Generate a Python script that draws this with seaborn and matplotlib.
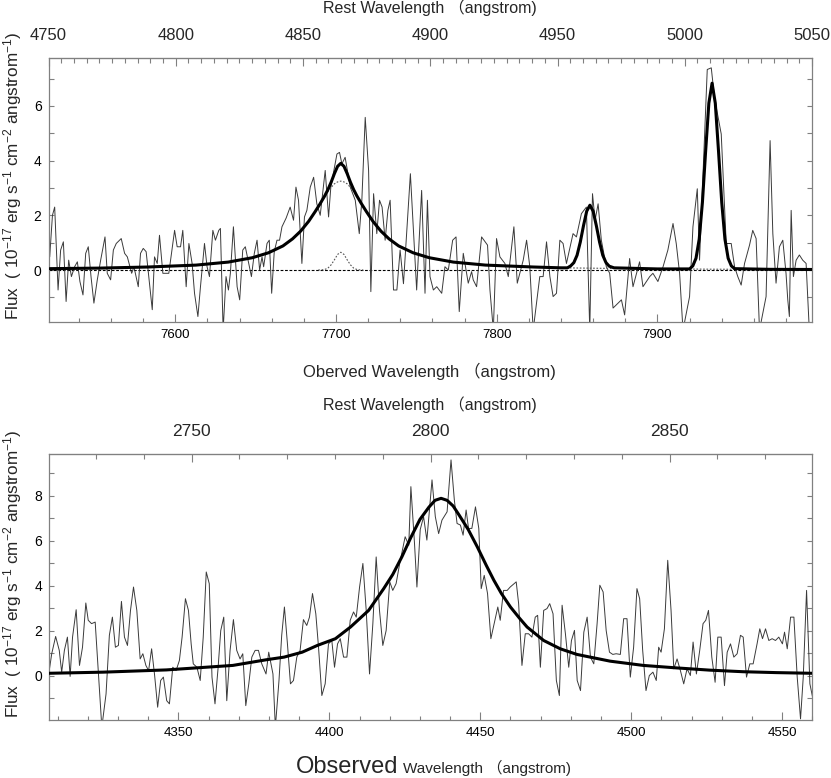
import numpy as np
import pandas as pd
import matplotlib
matplotlib.use("Agg")
import matplotlib.pyplot as plt
from matplotlib.ticker import MultipleLocator, FixedLocator
import seaborn as sns

# ---------------- data ----------------
redshift = 0.5834
rest_range_top = [4750, 5050]
rest_ticks_top = [4750, 4800, 4850, 4900, 4950, 5000, 5050]
rest_ticks_bottom = [2750, 2800, 2850]

# top panel: observed spectrum around H-beta / [OIII]
hb_wave = [7521.9, 7523.6, 7525.0, 7527.1, 7528.7, 7530.4, 7532.1, 7533.7, 7535.4, 7537.4,
           7539.1, 7540.7, 7542.6, 7544.3, 7545.9, 7547.6, 7549.4, 7551.5, 7553.6, 7556.3,
           7557.7, 7559.8, 7561.5, 7563.3, 7566.4, 7568.5, 7570.2, 7572.9, 7574.3, 7577.0,
           7578.4, 7580.1, 7581.9, 7585.7, 7587.1, 7588.8, 7590.2, 7592.3, 7596.0, 7599.6,
           7601.2, 7603.3, 7604.7, 7606.8, 7608.5, 7610.5, 7612.0, 7614.1, 7615.7, 7618.2,
           7619.8, 7621.3, 7623.4, 7625.0, 7627.1, 7628.1, 7629.8, 7631.6, 7633.1, 7634.3,
           7636.2, 7638.5, 7640.1, 7642.0, 7643.6, 7645.7, 7647.4, 7649.2, 7650.9, 7652.5,
           7654.0, 7655.0, 7657.1, 7658.5, 7660.0, 7661.6, 7663.3, 7664.9, 7666.4, 7669.0,
           7671.5, 7673.6, 7675.1, 7676.7, 7678.8, 7680.4, 7681.9, 7684.0, 7686.1, 7688.1,
           7690.2, 7693.3, 7695.4, 7696.8, 7700.6, 7702.2, 7703.7, 7705.7, 7708.9, 7712.0,
           7714.5, 7716.1, 7718.2, 7720.3, 7721.7, 7723.4, 7725.4, 7727.1, 7728.7, 7730.6,
           7732.3, 7733.7, 7735.8, 7737.9, 7739.9, 7742.0, 7746.3, 7750.2, 7753.3, 7755.4,
           7756.9, 7758.5, 7760.6, 7762.7, 7765.8, 7767.8, 7769.9, 7772.6, 7774.7, 7776.7,
           7779.2, 7781.3, 7782.3, 7784.4, 7785.4, 7787.5, 7790.6, 7794.3, 7795.8, 7797.9,
           7799.9, 7802.0, 7805.1, 7807.2, 7810.7, 7812.8, 7816.5, 7818.6, 7820.6, 7822.7,
           7826.8, 7828.9, 7831.0, 7833.1, 7835.1, 7837.2, 7839.3, 7841.3, 7843.4, 7847.5,
           7849.6, 7852.7, 7855.8, 7857.9, 7859.6, 7861.2, 7863.1, 7865.1, 7868.2, 7870.3,
           7872.4, 7875.5, 7877.6, 7879.6, 7882.7, 7884.8, 7888.9, 7891.0, 7895.2, 7897.2,
           7900.3, 7903.5, 7906.5, 7909.7, 7911.7, 7913.8, 7915.9, 7920.0, 7922.1, 7924.8,
           7926.2, 7931.0, 7933.5, 7935.5, 7939.7, 7942.8, 7945.9, 7948.0, 7950.0, 7952.1,
           7954.2, 7957.3, 7959.3, 7961.4, 7963.5, 7967.6, 7970.1, 7971.8, 7973.8, 7975.9,
           7978.0, 7980.0, 7981.1, 7982.1, 7983.2, 7984.6, 7986.3, 7988.3, 7990.4, 7992.5,
           7994.5]
hb_flux = [0.48, 2.0, 2.3, -0.73, 0.73, 1.03, -1.15, 0.36, -0.24, 0.12,
           0.3, -0.42, -0.91, 0.61, 0.85, -0.24, -1.21, -0.36, 0.36, 1.21,
           -0.12, -0.36, 0.73, 0.97, 1.15, 0.61, 0.48, -0.12, 0.12, -0.61,
           0.61, 0.79, 0.67, -1.45, 0.48, 0.24, 1.27, -0.12, -0.12, 1.45,
           0.85, 0.85, 1.45, -0.61, 0.97, 0.24, -0.85, -1.7, -0.61, 0.97,
           0.12, -0.24, 1.45, 1.09, 1.45, 1.52, -2.2, -0.24, -0.73, -0.12,
           1.58, -0.61, -1.09, 0.73, 0.85, 0.24, -0.24, 0.61, 1.09, 0.0,
           0.48, 0.12, 0.97, 1.09, -0.85, 0.67, 1.09, 1.09, 1.58, 1.9,
           2.3, 1.82, 3.03, 2.55, 0.24, 1.94, 2.18, 3.03, 3.39, 2.42,
           2.0, 3.64, 1.94, 3.03, 4.24, 4.3, 3.88, 4.12, 3.03, 2.55,
           1.33, 2.55, 5.58, 3.64, -0.79, 2.79, 1.33, 2.55, 2.3, 1.09,
           2.18, 2.55, -0.73, -0.73, 0.73, -0.5, 3.52, -0.73, 2.91, -0.85,
           2.55, -0.24, -0.73, -0.61, -0.85, 0.12, 0.0, 1.09, 1.21, -1.52,
           0.61, -0.12, -0.48, -0.06, -0.36, -0.61, 1.21, 0.91, -0.73, -2.2,
           1.15, 0.48, 0.24, -0.24, 1.58, -0.48, 0.36, 1.09, 0.12, -2.2,
           -0.24, -0.24, 1.03, -0.24, -0.97, -0.85, 1.09, 0.97, 0.24, 1.33,
           1.21, 2.06, 2.3, -2.2, 2.79, 1.82, 2.42, 1.09, 0.12, -0.12,
           -1.39, -1.21, -1.09, -1.64, 0.42, -0.61, 0.3, -0.61, -0.24, -0.12,
           -0.42, 0.12, 0.73, 1.7, 0.97, -0.12, -2.2, -0.97, 1.58, 2.97,
           0.36, 7.33, 7.39, 6.3, 4.97, 0.97, 0.97, 0.12, -0.24, -0.55,
           0.24, 0.91, 1.45, 1.15, -2.2, -0.97, 4.73, 1.33, -0.48, 0.85,
           1.09, -0.12, -1.09, -1.7, 2.18, -0.24, 0.36, 0.55, 0.36, 0.24,
           -2.2]

# top panel: total fitted model
hb_model_wave = [7522, 7553, 7583, 7613, 7633, 7648, 7658, 7667, 7673, 7678,
                 7683, 7687, 7690, 7693, 7695, 7697, 7699, 7701, 7703, 7705,
                 7707, 7709, 7711, 7713, 7716, 7719, 7723, 7728, 7733, 7739,
                 7748, 7758, 7773, 7793, 7823, 7840, 7844, 7846, 7848, 7850,
                 7852, 7854, 7856, 7858, 7860, 7862, 7864, 7866, 7868, 7870,
                 7873, 7900, 7920, 7922, 7924, 7926, 7928, 7930, 7932, 7934,
                 7936, 7938, 7940, 7942, 7944, 7946, 7948, 7970, 7996]
hb_model_flux = [0.05, 0.07, 0.11, 0.18, 0.29, 0.45, 0.63, 0.88, 1.14, 1.42,
                 1.78, 2.13, 2.41, 2.71, 2.94, 3.21, 3.52, 3.79, 3.90, 3.79,
                 3.52, 3.21, 2.94, 2.71, 2.41, 2.13, 1.78, 1.42, 1.14, 0.88,
                 0.63, 0.45, 0.29, 0.18, 0.11, 0.08, 0.08, 0.15, 0.27, 0.54,
                 1.02, 1.62, 2.15, 2.37, 2.15, 1.62, 1.02, 0.54, 0.27, 0.14,
                 0.08, 0.04, 0.04, 0.15, 0.43, 1.13, 2.48, 4.35, 6.10, 6.83,
                 6.10, 4.35, 2.48, 1.13, 0.43, 0.15, 0.05, 0.025, 0.02]

# top panel: broad H-beta component
hb_broad_wave = [7522, 7553, 7583, 7613, 7633, 7648, 7658, 7667, 7673, 7678,
                 7683, 7687, 7690, 7693, 7695, 7697, 7699, 7701, 7703, 7705,
                 7707, 7709, 7711, 7713, 7716, 7719, 7723, 7728, 7733, 7739,
                 7748, 7758, 7773, 7793, 7823, 7840, 7870, 7900, 7934, 7996]
hb_broad_flux = [0.05, 0.07, 0.11, 0.18, 0.29, 0.45, 0.63, 0.88, 1.14, 1.42,
                 1.78, 2.13, 2.41, 2.69, 2.87, 3.02, 3.15, 3.22, 3.25, 3.22,
                 3.15, 3.02, 2.87, 2.69, 2.41, 2.13, 1.78, 1.42, 1.14, 0.88,
                 0.63, 0.45, 0.29, 0.18, 0.11, 0.08, 0.06, 0.045, 0.03, 0.02]

# top panel: narrow H-beta component
hb_narrow_wave = [7689, 7691, 7693, 7695, 7697, 7699, 7701, 7703, 7705, 7707,
                  7709, 7711, 7713, 7715, 7717]
hb_narrow_flux = [0.0, 0.004, 0.02, 0.07, 0.19, 0.37, 0.57, 0.65, 0.57, 0.37,
                  0.19, 0.07, 0.02, 0.004, 0.0]

# bottom panel: observed spectrum around MgII
mg_wave = [4307.1, 4308.0, 4309.3, 4310.5, 4311.3, 4312.2, 4313.2, 4314.1, 4314.9, 4316.1,
           4317.2, 4318.2, 4319.3, 4320.1, 4321.2, 4322.4, 4323.5, 4324.6, 4326.0, 4327.1,
           4328.1, 4329.1, 4330.1, 4331.1, 4332.1, 4333.1, 4334.1, 4335.1, 4336.2, 4337.3,
           4338.2, 4339.2, 4340.1, 4341.1, 4342.1, 4343.1, 4344.1, 4345.0, 4346.1, 4347.0,
           4348.1, 4349.2, 4350.3, 4351.2, 4352.3, 4353.3, 4354.2, 4354.9, 4356.1, 4357.2,
           4358.2, 4359.2, 4360.2, 4361.1, 4362.1, 4363.1, 4364.0, 4365.0, 4366.0, 4367.1,
           4368.2, 4369.3, 4370.4, 4371.3, 4372.3, 4373.3, 4374.3, 4375.4, 4376.5, 4377.6,
           4379.0, 4379.9, 4381.3, 4382.1, 4383.3, 4384.2, 4385.1, 4386.1, 4387.1, 4388.1,
           4389.2, 4390.3, 4391.4, 4392.5, 4393.4, 4394.4, 4395.5, 4396.4, 4397.5, 4398.6,
           4399.7, 4400.8, 4401.7, 4402.7, 4403.6, 4404.7, 4405.8, 4406.9, 4408.0, 4408.9,
           4410.0, 4411.1, 4412.2, 4413.3, 4414.4, 4415.5, 4416.6, 4417.7, 4418.8, 4420.0,
           4421.0, 4422.1, 4423.3, 4424.4, 4425.1, 4426.3, 4427.0, 4428.2, 4429.0, 4430.1,
           4431.2, 4432.3, 4434.0, 4435.1, 4436.2, 4437.3, 4439.0, 4440.3, 4441.4, 4442.3,
           4443.4, 4444.3, 4445.3, 4446.1, 4447.2, 4448.4, 4449.5, 4450.3, 4451.3, 4452.4,
           4453.5, 4454.6, 4455.8, 4456.6, 4457.7, 4458.9, 4459.9, 4461.9, 4462.7, 4463.8,
           4464.9, 4466.0, 4467.1, 4468.2, 4469.0, 4469.9, 4471.0, 4472.1, 4473.0, 4474.1,
           4475.2, 4476.2, 4477.1, 4478.2, 4479.3, 4480.2, 4481.2, 4482.1, 4483.2, 4484.3,
           4485.4, 4486.5, 4487.6, 4488.7, 4489.6, 4490.7, 4491.7, 4492.8, 4493.9, 4495.0,
           4496.4, 4497.5, 4498.6, 4499.7, 4500.8, 4501.9, 4502.8, 4503.8, 4504.9, 4506.0,
           4507.2, 4508.3, 4509.1, 4509.9, 4511.0, 4512.1, 4513.2, 4514.1, 4515.2, 4516.3,
           4517.4, 4518.5, 4519.6, 4520.5, 4521.6, 4522.7, 4523.8, 4524.7, 4525.6, 4526.7,
           4527.8, 4528.7, 4529.8, 4530.9, 4531.8, 4532.9, 4534.0, 4535.1, 4536.2, 4537.1,
           4538.2, 4539.3, 4540.4, 4541.7, 4542.6, 4543.5, 4544.5, 4545.6, 4546.7, 4547.8,
           4548.9, 4550.1, 4550.8, 4551.7, 4552.8, 4553.9, 4555.0, 4556.1, 4557.0, 4558.1,
           4559.2, 4560.1]
mg_flux = [0.15, 0.97, 1.74, 1.12, 0.15, 1.12, 1.71, -0.04, 1.71, 2.93,
           0.45, 1.26, 3.23, 2.46, 2.31, 2.38, 0.07, -2.3, -0.82, 1.79,
           2.6, 1.26, 1.34, 3.3, 1.71, 1.34, 2.9, 3.94, 2.9, 0.74,
           0.97, 0.45, 0.22, 1.19, 0.0, -1.41, -0.22, -0.07, -1.12, -1.26,
           0.37, 0.22, 0.67, 1.71, 3.42, 2.9, 1.41, 0.52, 0.37, -0.22,
           1.71, 4.61, 4.09, -0.07, -1.26, 0.3, 2.0, 2.6, -1.12, 1.12,
           2.49, 1.12, 0.74, 0.97, -1.34, -0.37, 0.82, 1.12, 1.12, 0.52,
           0.07, 1.04, 0.07, -2.3, -0.22, 1.79, 3.05, 1.41, -0.37, -0.22,
           0.82, 1.12, 2.49, 2.23, 2.6, 3.65, 2.75, 1.26, -0.89, -0.37,
           1.41, 1.56, 0.37, 1.41, 1.64, 0.82, 0.82, 2.46, 2.83, 2.6,
           3.94, 4.99, 2.9, 0.07, 2.31, 5.28, 2.9, 1.34, 2.0, 4.17,
           3.79, 4.09, 4.99, 5.73, 6.18, 5.8, 8.41, 5.88, 3.94, 6.5,
           7.07, 6.03, 8.71, 7.07, 6.32, 6.92, 7.29, 9.6, 7.81, 6.77,
           6.7, 6.25, 7.37, 6.55, 6.55, 7.51, 6.55, 3.87, 4.46, 3.65,
           1.64, 2.31, 3.05, 2.46, 3.79, 3.79, 3.94, 4.17, 3.2, 0.45,
           1.86, 1.86, 1.71, 2.6, 2.68, 0.37, 2.9, 2.98, 3.2, 2.75,
           -0.22, -0.89, 3.13, 1.86, 0.37, 1.56, 2.01, -0.22, -0.67, 1.93,
           2.6, 0.82, 0.52, 2.31, 4.02, 3.72, 2.01, 1.04, 0.94, 0.97,
           0.94, 2.53, 2.53, -0.07, 1.26, 3.87, 3.42, 1.12, -0.67, 0.0,
           0.15, -0.22, 1.26, 1.04, 2.08, 5.13, 2.9, 0.3, 0.74, 0.22,
           -0.37, 0.3, 0.0, 1.49, 0.07, 1.12, 2.31, 2.46, 2.9, 0.82,
           -0.3, 1.71, 1.71, -0.45, 1.04, 1.41, 0.82, 0.97, 1.79, 1.71,
           -0.07, 0.52, 0.52, 1.41, 2.08, 1.64, 2.08, 1.56, 1.64, 1.56,
           1.71, 1.41, 1.93, 1.19, 2.6, 2.6, -0.07, -1.93, -0.07, 3.79,
           -0.37, -0.97]

# bottom panel: fitted MgII model
mg_model_wave = [4307, 4325, 4346, 4368, 4379, 4385, 4391, 4396, 4402, 4407,
                 4413, 4418, 4421, 4424, 4427, 4430, 4433, 4435, 4437, 4439,
                 4441, 4443, 4446, 4449, 4452, 4454.5, 4457, 4460, 4463, 4465.5,
                 4471, 4476.5, 4482, 4493, 4504, 4515, 4526, 4537, 4548, 4560]
mg_model_flux = [0.10, 0.15, 0.25, 0.45, 0.70, 0.82, 1.04, 1.34, 1.64, 2.16,
                 2.90, 3.87, 4.50, 5.28, 6.15, 6.95, 7.50, 7.80, 7.89, 7.80,
                 7.55, 7.14, 6.50, 5.73, 4.90, 4.24, 3.65, 3.05, 2.55, 2.16,
                 1.56, 1.19, 0.94, 0.64, 0.45, 0.34, 0.24, 0.17, 0.13, 0.10]

# ---------------- style ----------------
sns.set_style("ticks")
plt.rcParams["font.family"] = ["Liberation Sans", "Noto Sans CJK SC", "DejaVu Sans"]
plt.rcParams["mathtext.fontset"] = "custom"
plt.rcParams["mathtext.rm"] = "Liberation Sans"
plt.rcParams["mathtext.it"] = "Liberation Sans:italic"
plt.rcParams["axes.unicode_minus"] = True

W, H = 831, 778
fig = plt.figure(figsize=(W / 100, H / 100), dpi=100)
fig.patch.set_facecolor("white")

def box(l, t, r, b):
    return [l / W, 1 - b / H, (r - l) / W, (b - t) / H]

def fpos(x, y):
    return (x / W, 1 - y / H)

FRAME = "#808080"
SPEC = "#3a3a3a"
NARROW = ["Liberation Sans Narrow", "Liberation Sans", "Noto Sans CJK SC"]
CJKFAM = ["Liberation Sans", "Noto Sans CJK SC"]

def to_rest(x):
    return x / (1 + redshift)

def to_obs(x):
    return x * (1 + redshift)

def style_axis(ax, xmaj, xmin, top_ticks, top_min, top_size, bot_size):
    for s in ax.spines.values():
        s.set_color(FRAME)
        s.set_linewidth(0.9)
    ax.xaxis.set_major_locator(MultipleLocator(xmaj))
    ax.xaxis.set_minor_locator(MultipleLocator(xmin))
    ax.yaxis.set_major_locator(MultipleLocator(2))
    ax.yaxis.set_minor_locator(MultipleLocator(1))
    ax.tick_params(axis="both", which="both", direction="in", color=FRAME,
                   top=False, right=True, labelcolor="black")
    ax.tick_params(axis="x", which="major", length=5.5, width=0.8, pad=5, labelsize=bot_size)
    ax.tick_params(axis="x", which="minor", length=3.0, width=0.8)
    ax.tick_params(axis="y", which="major", length=3.5, width=0.8, pad=5, labelsize=10)
    ax.tick_params(axis="y", which="minor", length=3.5, width=0.8)
    for lab in ax.get_xticklabels():
        lab.set_family(NARROW)
    sec = ax.secondary_xaxis("top", functions=(to_rest, to_obs))
    sec.spines["top"].set_color(FRAME)
    sec.xaxis.set_major_locator(FixedLocator(top_ticks))
    sec.xaxis.set_minor_locator(MultipleLocator(top_min))
    sec.tick_params(axis="x", which="both", direction="in", color=FRAME)
    sec.tick_params(axis="x", which="major", length=6, width=0.8, pad=11, labelsize=top_size)
    sec.tick_params(axis="x", which="minor", length=3.5, width=0.8)
    ax.set_xlabel("")
    ax.set_ylabel("")
    return sec

# ---------------- top panel ----------------
ax1 = fig.add_axes(box(48.5, 58, 812, 322))
ax1.axhline(0, color="black", lw=0.8, ls=(0, (2.5, 1.5)), zorder=1)
sns.lineplot(x=hb_wave, y=hb_flux, ax=ax1, color=SPEC, lw=0.7,
             estimator=None, sort=False, zorder=2)
sns.lineplot(x=hb_broad_wave, y=hb_broad_flux, ax=ax1, color="#555555", lw=0.8,
             ls=(0, (1.5, 1.5)), estimator=None, sort=False, zorder=3)
sns.lineplot(x=hb_narrow_wave, y=hb_narrow_flux, ax=ax1, color="#555555", lw=0.8,
             ls=(0, (1.5, 1.5)), estimator=None, sort=False, zorder=3)
sns.lineplot(x=hb_model_wave, y=hb_model_flux, ax=ax1, color="black", lw=2.2,
             estimator=None, sort=False, zorder=4)
ax1.set_xlim(to_obs(rest_range_top[0]), to_obs(rest_range_top[1]))
ax1.set_ylim(-1.9, 7.75)
sec1 = style_axis(ax1, 100, 20, rest_ticks_top, 5, 12, 9.5)

# ---------------- bottom panel ----------------
ax2 = fig.add_axes(box(49, 454.3, 812.3, 720))
sns.lineplot(x=mg_wave, y=mg_flux, ax=ax2, color=SPEC, lw=0.7,
             estimator=None, sort=False, zorder=2)
sns.lineplot(x=mg_model_wave, y=mg_model_flux, ax=ax2, color="black", lw=2.2,
             estimator=None, sort=False, zorder=4)
ax2.set_xlim(4307.1, 4560.0)
ax2.set_ylim(-1.98, 9.85)
sec2 = style_axis(ax2, 50, 10, rest_ticks_bottom, 10, 12.5, 9.5)

# ---------------- texts ----------------
ylab = "Flux  ( 10$^{-17}$ erg s$^{-1}$ cm$^{-2}$ angstrom$^{-1}$)"
fig.text(*fpos(13, 176), ylab, rotation=90, ha="center", va="center",
         fontsize=12.3)
fig.text(*fpos(13, 574), ylab, rotation=90, ha="center", va="center",
         fontsize=12.3)

fig.text(*fpos(430, 8), "Rest Wavelength \uff08angstrom)", ha="center", va="center",
         fontsize=11.5, family=CJKFAM)
fig.text(*fpos(429, 371), "Oberved Wavelength \uff08angstrom)", ha="center", va="center",
         fontsize=12, family=NARROW)
fig.text(*fpos(430, 405), "Rest Wavelength \uff08angstrom)", ha="center", va="center",
         fontsize=11.5, family=CJKFAM)
fig.text(*fpos(398, 773), "Observed", ha="right", va="baseline",
         fontsize=17, family=CJKFAM)
fig.text(*fpos(403, 773), "Wavelength \uff08angstrom)", ha="left", va="baseline",
         fontsize=11, family=CJKFAM)

fig.savefig("out.png", dpi=100, facecolor="white")
